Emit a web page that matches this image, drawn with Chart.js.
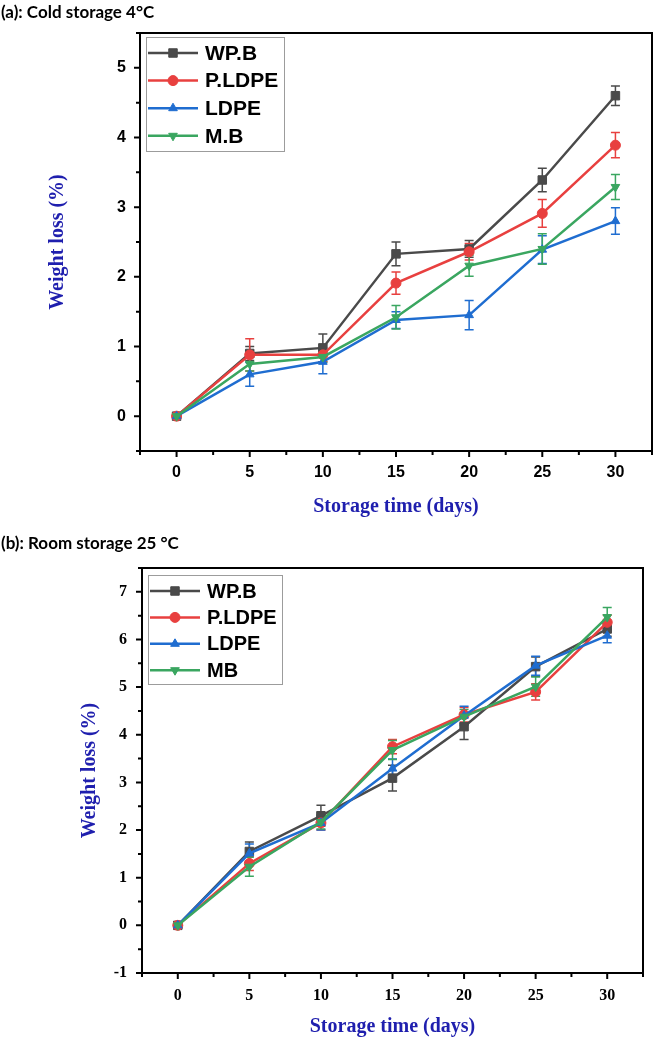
<!DOCTYPE html>
<html>
<head>
<meta charset="utf-8">
<script src="https://cdn.jsdelivr.net/npm/chart.js@4.4.0/dist/chart.umd.min.js"></script>
<style>
  body { margin: 0; background: #fff; width: 664px; height: 1042px; position: relative; overflow: hidden; }
  .title { position: absolute; left: 1px; font-family: Lato, "Open Sans", sans-serif; font-weight: bold; font-size: 17px; color: #000; z-index: 2; }
  .box { position: absolute; left: 0; width: 664px; }
</style>
</head>
<body>
<div class="title" style="top:1px">(a): Cold storage 4°C</div>
<div class="box" style="top:0;height:530px"><canvas id="chartA"></canvas></div>
<div class="title" style="top:532px">(b): Room storage 25 °C</div>
<div class="box" style="top:530px;height:512px"><canvas id="chartB"></canvas></div>
<script>
// storage days and tick labels
const days = [0, 5, 10, 15, 20, 25, 30];
const xTicks = [0, 5, 10, 15, 20, 25, 30];
const yTicksA = [0, 1, 2, 3, 4, 5];
const yTicksB = [-1, 0, 1, 2, 3, 4, 5, 6, 7];
const namesA = ['WP.B', 'P.LDPE', 'LDPE', 'M.B'];
const namesB = ['WP.B', 'P.LDPE', 'LDPE', 'MB'];

// (a) cold storage 4°C
const coldWPB = [0, 0.90, 0.98, 2.33, 2.40, 3.39, 4.60];
const coldWPBErr = [0.03, 0.10, 0.20, 0.17, 0.12, 0.17, 0.14];
const coldPLDPE = [0, 0.88, 0.88, 1.91, 2.36, 2.91, 3.89];
const coldPLDPEErr = [0.03, 0.23, 0.10, 0.16, 0.12, 0.20, 0.18];
const coldLDPE = [0, 0.60, 0.78, 1.38, 1.45, 2.39, 2.80];
const coldLDPEErr = [0.03, 0.17, 0.17, 0.12, 0.21, 0.20, 0.19];
const coldMB = [0, 0.75, 0.85, 1.42, 2.16, 2.40, 3.29];
const coldMBErr = [0.03, 0.10, 0.08, 0.17, 0.15, 0.22, 0.18];

// (b) room storage 25 °C
const roomWPB = [0, 1.55, 2.30, 3.09, 4.17, 5.43, 6.22];
const roomWPBErr = [0.05, 0.20, 0.22, 0.27, 0.27, 0.20, 0.15];
const roomPLDPE = [0, 1.30, 2.15, 3.75, 4.42, 4.90, 6.36];
const roomPLDPEErr = [0.05, 0.15, 0.15, 0.15, 0.15, 0.17, 0.15];
const roomLDPE = [0, 1.51, 2.15, 3.29, 4.40, 5.45, 6.08];
const roomLDPEErr = [0.05, 0.20, 0.15, 0.20, 0.20, 0.20, 0.15];
const roomMB = [0, 1.23, 2.17, 3.68, 4.38, 5.01, 6.47];
const roomMBErr = [0.05, 0.20, 0.15, 0.20, 0.15, 0.20, 0.20];

const colors = ['#4a4a4a', '#e8403f', '#1f6dd0', '#3aa660'];
const styles = ['rect', 'circle', 'triangle', 'triangle'];
const rotations = [0, 0, 0, 180];
const axisBlue = '#1f1fae';

function makeSets(names, vals, errs) {
  return names.map((n, i) => ({
    label: n,
    data: days.map((d, j) => ({ x: d, y: vals[i][j] })),
    errors: errs[i],
    borderColor: colors[i],
    backgroundColor: colors[i],
    borderWidth: 2.5,
    pointStyle: styles[i],
    pointRotation: rotations[i],
    pointRadius: i === 0 ? 6 : 5,
    pointBorderWidth: 1,
    order: 4 - i
  }));
}

// error bars through the scales
const errorBars = {
  id: 'errorBars',
  beforeDatasetsDraw(chart) {
    const { ctx, scales: { x, y } } = chart;
    ctx.save();
    ctx.lineWidth = 1.5;
    chart.data.datasets.forEach(ds => {
      ctx.strokeStyle = ds.borderColor;
      ds.data.forEach((p, j) => {
        const e = ds.errors[j];
        const px = x.getPixelForValue(p.x);
        const t = y.getPixelForValue(p.y + e);
        const b = y.getPixelForValue(p.y - e);
        ctx.beginPath();
        ctx.moveTo(px, t); ctx.lineTo(px, b);
        ctx.moveTo(px - 4.5, t); ctx.lineTo(px + 4.5, t);
        ctx.moveTo(px - 4.5, b); ctx.lineTo(px + 4.5, b);
        ctx.stroke();
      });
    });
    ctx.restore();
  }
};

// box frame with outward major/minor ticks
const frame = {
  id: 'frame',
  afterDraw(chart, args, o) {
    const { ctx, chartArea: a, scales: { x, y } } = chart;
    ctx.save();
    ctx.strokeStyle = '#000';
    ctx.lineWidth = 2;
    ctx.strokeRect(a.left, a.top, a.right - a.left, a.bottom - a.top);
    ctx.beginPath();
    x.ticks.forEach(t => {
      const px = x.getPixelForValue(t.value);
      const len = xTicks.includes(t.value) ? 6 : 4;
      ctx.moveTo(px, a.bottom); ctx.lineTo(px, a.bottom + len);
    });
    y.ticks.forEach(t => {
      const py = y.getPixelForValue(t.value);
      const len = o.major.includes(t.value) ? 6 : 4;
      ctx.moveTo(a.left, py); ctx.lineTo(a.left - len, py);
    });
    ctx.stroke();
    ctx.restore();
  }
};

// legend box inside the plot, line + marker
const insideLegend = {
  id: 'insideLegend',
  afterDraw(chart, args, o) {
    const { ctx, chartArea: a } = chart;
    const x0 = a.left + o.dx, y0 = a.top + o.dy;
    ctx.save();
    ctx.strokeStyle = '#9c9c9c';
    ctx.lineWidth = 1;
    ctx.strokeRect(x0 + 0.5, y0 + 0.5, o.w, o.h);
    chart.data.datasets.forEach((ds, i) => {
      const yy = y0 + o.first + i * o.gap;
      ctx.strokeStyle = ds.borderColor;
      ctx.fillStyle = ds.borderColor;
      ctx.lineWidth = 2.5;
      ctx.beginPath();
      ctx.moveTo(x0 + 2, yy); ctx.lineTo(x0 + 52, yy);
      ctx.stroke();
      ctx.lineWidth = 1;
      Chart.helpers.drawPoint(ctx, { pointStyle: ds.pointStyle, rotation: ds.pointRotation, radius: ds.pointRadius, borderWidth: 1 }, x0 + 27, yy);
      ctx.fillStyle = '#000';
      ctx.font = 'bold ' + o.size + 'px "Liberation Sans", Arial, sans-serif';
      ctx.textBaseline = 'middle';
      ctx.fillText(ds.label, x0 + 59, yy + 1);
    });
    ctx.restore();
  }
};

function makeChart(id, sets, cfg) {
  return new Chart(document.getElementById(id), {
    type: 'line',
    data: { datasets: sets },
    options: {
      responsive: true,
      maintainAspectRatio: false,
      animation: false,
      layout: { padding: cfg.padding },
      plugins: {
        legend: { display: false },
        tooltip: { enabled: false },
        frame: { major: cfg.yMajor },
        insideLegend: cfg.legend
      },
      scales: {
        x: {
          type: 'linear',
          min: -2.5, max: 32.5,
          grid: { display: false, drawTicks: false },
          border: { display: false },
          ticks: {
            stepSize: 2.5, autoSkip: false, maxRotation: 0, padding: cfg.xPad, color: '#000',
            font: { family: cfg.tickFont, weight: 'bold', size: 16 },
            callback: v => xTicks.includes(v) ? String(v) : ''
          },
          title: {
            display: true, text: 'Storage time (days)', color: axisBlue,
            font: { family: 'Liberation Serif', weight: 'bold', size: 20 },
            padding: { top: 0, bottom: cfg.xTitlePad }
          },
          afterFit: s => { s.height = cfg.xHeight; }
        },
        y: {
          min: cfg.yMin, max: cfg.yMax,
          grid: { display: false, drawTicks: false },
          border: { display: false },
          ticks: {
            stepSize: 0.5, autoSkip: false, padding: cfg.yPad, color: '#000',
            font: { family: cfg.tickFont, weight: 'bold', size: 16 },
            callback: v => cfg.yMajor.includes(v) ? String(v) : ''
          },
          title: {
            display: true, text: 'Weight loss (%)', color: axisBlue,
            font: { family: 'Liberation Serif', weight: 'bold', size: 20 },
            padding: { top: cfg.yTitlePad, bottom: 0 }
          },
          afterFit: s => { s.width = cfg.yWidth; }
        }
      }
    },
    plugins: [errorBars, frame, insideLegend]
  });
}

makeChart('chartA',
  makeSets(namesA, [coldWPB, coldPLDPE, coldLDPE, coldMB], [coldWPBErr, coldPLDPEErr, coldLDPEErr, coldMBErr]),
  {
    padding: { left: 0, top: 33, right: 6, bottom: 0 },
    yMin: -0.5, yMax: 5.5, yMajor: yTicksA,
    tickFont: 'Liberation Sans',
    xPad: 12, yPad: 14, xHeight: 79, yWidth: 140,
    xTitlePad: 11, yTitlePad: 46,
    legend: { dx: 6, dy: 4, w: 138, h: 114, first: 16, gap: 27.6, size: 21 }
  });

makeChart('chartB',
  makeSets(namesB, [roomWPB, roomPLDPE, roomLDPE, roomMB], [roomWPBErr, roomPLDPEErr, roomLDPEErr, roomMBErr]),
  {
    padding: { left: 0, top: 38, right: 21, bottom: 0 },
    yMin: -1, yMax: 7.5, yMajor: yTicksB,
    tickFont: 'Liberation Serif',
    xPad: 13, yPad: 15, xHeight: 69, yWidth: 142,
    xTitlePad: 3, yTitlePad: 78,
    legend: { dx: 6, dy: 7, w: 134, h: 109, first: 16, gap: 26.4, size: 20 }
  });
</script>
</body>
</html>
